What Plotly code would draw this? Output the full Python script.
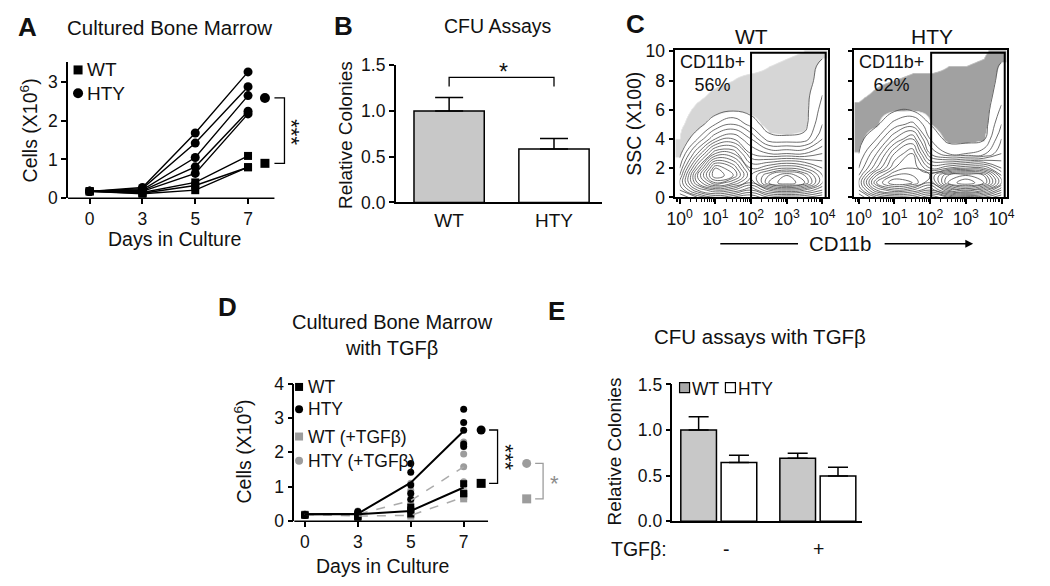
import plotly.graph_objects as go

W, H = 1050, 586
FONT = "Liberation Sans, Arial, sans-serif"

# ------------------------------------------------------------------ data
day_labels = ["0", "3", "5", "7"]
day_pos = [0, 1, 2, 3]

# Panel A / D : individual animals, cells (x10^6)
hty_cells = [
    [0.18, 0.28, 1.68, 3.25],
    [0.18, 0.25, 1.42, 2.87],
    [0.18, 0.22, 1.05, 2.64],
    [0.18, 0.20, 0.81, 2.24],
    [0.18, 0.18, 0.64, 2.17],
]
wt_cells = [
    [0.18, 0.15, 0.41, 1.09],
    [0.18, 0.13, 0.33, 0.80],
    [0.18, 0.12, 0.21, 0.80],
]
a_end_mean_hty = 2.58
a_end_mean_wt = 0.90

# Panel B
b_groups = ["WT", "HTY"]
b_values = [1.00, 0.585]
b_errors = [0.148, 0.115]

# Panel C : density (rows = SSC, cols = log10 CD11b)
cd11b_log_grid = [0, 0.5, 1, 1.5, 2, 2.5, 3, 3.5, 4]
ssc_grid = [0, 0.5, 1, 1.5, 2, 3, 4, 5, 6, 7, 8, 9, 10]
wt_density = [
    [1.0, 2.0, 3.0, 2.5, 2.0, 3.0, 3.0, 3.0, 2.5],
    [2.0, 4.0, 5.0, 4.5, 3.5, 5.0, 5.5, 5.0, 4.0],
    [2.5, 5.5, 7.5, 6.5, 5.0, 7.5, 8.5, 7.5, 5.0],
    [2.0, 6.0, 9.0, 8.0, 5.5, 7.0, 8.0, 7.0, 5.0],
    [1.5, 5.0, 8.5, 7.5, 5.0, 5.5, 6.0, 5.5, 4.5],
    [0.8, 3.0, 5.5, 5.5, 3.5, 3.0, 3.0, 3.0, 3.5],
    [0.4, 1.5, 3.0, 3.5, 2.5, 1.2, 1.1, 1.2, 2.5],
    [0.3, 0.7, 1.5, 2.0, 1.3, 0.7, 0.7, 0.8, 2.0],
    [0.2, 0.5, 0.7, 0.9, 0.8, 0.7, 0.7, 0.8, 1.7],
    [0.1, 0.3, 0.5, 0.6, 0.6, 0.6, 0.6, 0.8, 1.5],
    [0.1, 0.2, 0.3, 0.4, 0.5, 0.5, 0.6, 0.7, 1.3],
    [0.0, 0.1, 0.2, 0.3, 0.3, 0.4, 0.5, 0.6, 1.2],
    [0.0, 0.0, 0.1, 0.1, 0.2, 0.2, 0.3, 0.4, 0.8],
]
hty_density = [
    [1.0, 2.5, 3.0, 3.0, 2.0, 3.0, 3.5, 3.5, 2.5],
    [2.0, 4.5, 5.5, 5.0, 4.0, 6.0, 7.0, 6.0, 4.0],
    [2.5, 6.0, 7.5, 7.0, 5.5, 8.5, 9.5, 8.5, 5.5],
    [2.0, 5.0, 6.5, 6.5, 6.0, 8.0, 8.5, 8.0, 5.0],
    [1.5, 3.5, 5.5, 6.0, 4.5, 5.0, 5.5, 5.5, 4.0],
    [1.0, 2.5, 4.5, 5.5, 2.5, 1.5, 1.5, 1.8, 3.0],
    [0.8, 1.5, 3.0, 4.0, 1.5, 0.8, 0.8, 0.9, 2.5],
    [0.7, 0.9, 1.7, 2.2, 1.0, 0.6, 0.6, 0.7, 2.0],
    [0.5, 0.8, 0.9, 0.9, 0.8, 0.7, 0.7, 0.7, 1.6],
    [0.3, 0.5, 0.7, 0.7, 0.6, 0.6, 0.6, 0.7, 1.3],
    [0.1, 0.3, 0.4, 0.5, 0.5, 0.5, 0.5, 0.6, 1.2],
    [0.0, 0.1, 0.2, 0.3, 0.3, 0.4, 0.4, 0.5, 1.1],
    [0.0, 0.0, 0.1, 0.1, 0.1, 0.2, 0.2, 0.3, 0.7],
]
c_samples = ["WT", "HTY"]
c_percent = ["56%", "62%"]
c_gate_low = [100, 107]
c_gate_high = [12300, 12300]
c_gate_top = 9.9

# Panel D : TGFβ-treated animals
hty_tgf_cells = [
    [0.20, 0.30, 1.10, 2.30],
    [0.20, 0.25, 0.90, 1.95],
    [0.20, 0.20, 0.78, 1.58],
    [0.20, 0.18, 0.60, 1.15],
    [0.20, 0.15, 0.50, 1.05],
]
wt_tgf_cells = [
    [0.20, 0.15, 0.30, 0.85],
    [0.20, 0.13, 0.20, 0.72],
    [0.20, 0.12, 0.15, 0.65],
]
d_mean_hty = [0.20, 0.22, 1.12, 2.62]
d_mean_wt = [0.20, 0.20, 0.30, 0.98]
d_mean_hty_tgf = [0.20, 0.20, 0.60, 1.58]
d_mean_wt_tgf = [0.20, 0.15, 0.17, 0.70]
d_end_hty, d_end_wt = 2.65, 1.10
d_end_hty_tgf, d_end_wt_tgf = 1.68, 0.65

# Panel E
e_conditions = ["-", "+"]
e_wt = [1.00, 0.69]
e_wt_err = [0.145, 0.055]
e_hty = [0.645, 0.495]
e_hty_err = [0.08, 0.098]

# ------------------------------------------------------------------ helpers
BLACK = "black"
GREY_FILL = "#c8c8c8"
GREY_PT = "#9c9c9c"
GREY_LINE = "#ababab"
CLEAR = "rgba(255,255,255,0)"


def dx(l, r):
    return [l / W, r / W]


def dy(top, bottom):
    return [1 - bottom / H, 1 - top / H]


def pxx(x):
    return x / W


def pyy(y):
    return 1 - y / H


def lin(v, rng, pl, pr):
    return (pl + (v - rng[0]) / (rng[1] - rng[0]) * (pr - pl)) / W


axis_common = dict(showgrid=False, zeroline=False, linecolor=BLACK, linewidth=1.5,
                   ticks="outside", ticklen=5, tickwidth=1.5, tickcolor=BLACK,
                   tickfont=dict(family=FONT, size=17.5, color="#111"))

fig = go.Figure()
annotations = []
shapes = []


def text(x, y, s, size=18, bold=False, angle=0, xanchor="center", color="#111"):
    annotations.append(dict(
        x=pxx(x), y=pyy(y), xref="paper", yref="paper", showarrow=False,
        text=("<b>%s</b>" % s) if bold else s, textangle=angle,
        xanchor=xanchor, yanchor="middle",
        font=dict(family=FONT, size=size, color=color)))


def mk(symbol, size, color):
    return dict(symbol=symbol, size=size, color=color, opacity=1,
                line=dict(width=0, color=color))


# ------------------------------------------------------------------ Panel A
A_XR, A_YR = [-0.41, 4.1], [0, 3.5]
A_L, A_R, A_T, A_B = 60, 302, 54, 195
for row in hty_cells:
    fig.add_trace(go.Scatter(x=day_pos, y=row, mode="lines+markers", xaxis="x", yaxis="y",
                             line=dict(color=BLACK, width=1.4), marker=mk("circle", 9, BLACK),
                             cliponaxis=False, showlegend=False))
for row in wt_cells:
    fig.add_trace(go.Scatter(x=day_pos, y=row, mode="lines+markers", xaxis="x", yaxis="y",
                             line=dict(color=BLACK, width=1.4), marker=mk("square", 8, BLACK),
                             cliponaxis=False, showlegend=False))
fig.add_trace(go.Scatter(x=[3.32], y=[a_end_mean_hty], mode="markers", xaxis="x", yaxis="y",
                         marker=mk("circle", 10, BLACK), cliponaxis=False, showlegend=False))
fig.add_trace(go.Scatter(x=[3.32], y=[a_end_mean_wt], mode="markers", xaxis="x", yaxis="y",
                         marker=mk("square", 9, BLACK), cliponaxis=False, showlegend=False))
fig.add_trace(go.Scatter(x=[3.5, 3.69, 3.69, 3.5],
                         y=[a_end_mean_hty, a_end_mean_hty, a_end_mean_wt, a_end_mean_wt],
                         mode="lines", xaxis="x", yaxis="y",
                         line=dict(color=BLACK, width=1.3), showlegend=False))
fig.add_trace(go.Scatter(x=[-0.22], y=[3.3], mode="markers", xaxis="x", yaxis="y",
                         marker=mk("square", 9, BLACK), cliponaxis=False, showlegend=False))
fig.add_trace(go.Scatter(x=[-0.22], y=[2.7], mode="markers", xaxis="x", yaxis="y",
                         marker=mk("circle", 10, BLACK), cliponaxis=False, showlegend=False))
shapes.append(dict(type="line", xref="paper", yref="paper",
                   x0=lin(A_XR[0], A_XR, A_L, A_R), x1=lin(3.5, A_XR, A_L, A_R),
                   y0=pyy(A_B), y1=pyy(A_B), line=dict(color=BLACK, width=1.5)))
text(19, 18, "A", 26, bold=True)
text(163, 18, "Cultured Bone Marrow", 20.5)
text(20, 125, "Cells (X10<sup>6</sup>)", 19.5, angle=-90)
text(168, 237, "Days in Culture", 19.5)
text(77, 62, "WT", 19, xanchor="left")
text(77, 86, "HTY", 19, xanchor="left")
text(287, 127, "***", 22, angle=90)

# ------------------------------------------------------------------ Panel B
fig.add_trace(go.Bar(x=[0, 1], y=b_values, width=0.67, xaxis="x2", yaxis="y2",
                     marker=dict(color=[GREY_FILL, "white"], line=dict(color=BLACK, width=1.5)),
                     error_y=dict(type="data", symmetric=False, array=b_errors, arrayminus=[0, 0],
                                  color=BLACK, thickness=1.5, width=14),
                     showlegend=False))
b_top = max(v + e for v, e in zip(b_values, b_errors))
fig.add_trace(go.Scatter(x=[0, 0, 1, 1], y=[b_top + 0.12, b_top + 0.22, b_top + 0.22, b_top + 0.12],
                         mode="lines", xaxis="x2", yaxis="y2",
                         line=dict(color=BLACK, width=1.3), showlegend=False))
text(340, 17, "B", 26, bold=True)
text(497, 17, "CFU Assays", 19.5)
text(342, 129, "Relative Colonies", 19, angle=-90)
text(503, 64, "*", 23)

# ------------------------------------------------------------------ Panel C
C_XAX = ["x3", "x4"]
C_YAX = ["y3", "y4"]
C_LEFT = [677.3, 859.3]
c_x_vals = [10 ** v for v in cd11b_log_grid]
for i, dens in enumerate([wt_density, hty_density]):
    dot_col = "rgba(70,70,70,0.22)" if i == 0 else "rgba(30,30,30,0.42)"
    fig.add_trace(go.Heatmap(x=c_x_vals, y=ssc_grid, z=dens, xaxis=C_XAX[i], yaxis=C_YAX[i],
                             zmin=0, zmax=10, zsmooth="best", showscale=False, hoverinfo="skip",
                             colorscale=[[0, CLEAR], [0.039, CLEAR], [0.04, dot_col],
                                         [0.097, dot_col], [0.1, CLEAR], [1, CLEAR]]))
    fig.add_trace(go.Contour(x=c_x_vals, y=ssc_grid, z=dens, xaxis=C_XAX[i], yaxis=C_YAX[i],
                             autocontour=False,
                             contours=dict(coloring="none", start=1, end=9.5, size=0.5),
                             line=dict(color="#4a4a4a", width=0.8, smoothing=1.3),
                             showscale=False, hoverinfo="skip"))
    fig.add_trace(go.Scatter(x=[c_gate_low[i], c_gate_low[i], c_gate_high[i], c_gate_high[i]],
                             y=[0, c_gate_top, c_gate_top, 0], mode="lines",
                             xaxis=C_XAX[i], yaxis=C_YAX[i],
                             line=dict(color=BLACK, width=2), showlegend=False))
    text(C_LEFT[i] + 3, 66, "CD11b+<br>" + c_percent[i], 18, xanchor="left")
text(637, 14, "C", 26, bold=True)
text(755, 27, c_samples[0], 21)
text(938, 27, c_samples[1], 21)
text(635, 118, "SSC (X100)", 19.5, angle=-90)
text(845, 242, "CD11b", 20.5)
shapes.append(dict(type="line", xref="paper", yref="paper", x0=pxx(723), x1=pxx(802),
                   y0=pyy(242), y1=pyy(242), line=dict(color=BLACK, width=1.3)))
annotations.append(dict(x=pxx(980), y=pyy(242), xref="paper", yref="paper",
                        ax=-90, ay=0, axref="pixel", ayref="pixel",
                        showarrow=True, arrowhead=2, arrowsize=1.2, arrowwidth=1.3,
                        arrowcolor=BLACK, text=""))

# ------------------------------------------------------------------ Panel D
D_XR, D_YR = [-0.2, 4.9], [0, 4]
D_L, D_R, D_T, D_B = 290, 564.4, 386.7, 529.3
for rows, sym, col in [(hty_tgf_cells, "circle", GREY_PT), (wt_tgf_cells, "square", GREY_PT),
                       (hty_cells, "circle", BLACK), (wt_cells, "square", BLACK)]:
    for row in rows:
        fig.add_trace(go.Scatter(x=day_pos, y=row, mode="markers", xaxis="x5", yaxis="y5",
                                 marker=mk(sym, 7, col), cliponaxis=False, showlegend=False))
for mean, col, dash, wd in [(d_mean_wt_tgf, GREY_LINE, "dash", 1.5), (d_mean_hty_tgf, GREY_LINE, "dash", 1.5),
                            (d_mean_wt, BLACK, "solid", 2), (d_mean_hty, BLACK, "solid", 2)]:
    fig.add_trace(go.Scatter(x=day_pos, y=mean, mode="lines", xaxis="x5", yaxis="y5",
                             line=dict(color=col, width=wd, dash=dash), showlegend=False))
for xv, yv, sym, col in [(3.33, d_end_hty, "circle", BLACK), (3.33, d_end_wt, "square", BLACK),
                         (4.19, d_end_hty_tgf, "circle", GREY_PT), (4.19, d_end_wt_tgf, "square", GREY_PT)]:
    fig.add_trace(go.Scatter(x=[xv], y=[yv], mode="markers", xaxis="x5", yaxis="y5",
                             marker=mk(sym, 9, col), cliponaxis=False, showlegend=False))
fig.add_trace(go.Scatter(x=[3.48, 3.64, 3.64, 3.48], y=[d_end_hty, d_end_hty, d_end_wt, d_end_wt],
                         mode="lines", xaxis="x5", yaxis="y5",
                         line=dict(color=BLACK, width=1.3), showlegend=False))
fig.add_trace(go.Scatter(x=[4.35, 4.5, 4.5, 4.35],
                         y=[d_end_hty_tgf, d_end_hty_tgf, d_end_wt_tgf, d_end_wt_tgf],
                         mode="lines", xaxis="x5", yaxis="y5",
                         line=dict(color=GREY_PT, width=1.3), showlegend=False))
for yv, sym, col in [(3.9, "square", BLACK), (3.25, "circle", BLACK),
                     (2.46, "square", GREY_PT), (1.76, "circle", GREY_PT)]:
    fig.add_trace(go.Scatter(x=[-0.11], y=[yv], mode="markers", xaxis="x5", yaxis="y5",
                             marker=mk(sym, 8, col), cliponaxis=False, showlegend=False))
shapes.append(dict(type="line", xref="paper", yref="paper",
                   x0=lin(D_XR[0], D_XR, D_L, D_R), x1=lin(3.46, D_XR, D_L, D_R),
                   y0=pyy(D_B), y1=pyy(D_B), line=dict(color=BLACK, width=1.5)))
text(222, 308, "D", 26, bold=True)
text(390, 337, "Cultured Bone Marrow<br>with TGFβ", 20)
text(238, 457, "Cells (X10<sup>6</sup>)", 19.5, angle=-90)
text(380, 576, "Days in Culture", 19.5)
for yv, lab in [(390.3, "WT"), (413.4, "HTY"), (441.6, "WT (+TGFβ)"), (466.6, "HTY (+TGFβ)")]:
    text(302, yv, lab, 17.5, xanchor="left")
text(505, 463, "***", 22, angle=90)
text(554, 490, "*", 22, color="#8c8c8c")

# ------------------------------------------------------------------ Panel E
fig.add_trace(go.Bar(x=[0, 1], y=e_wt, width=0.36, offset=-0.383, xaxis="x6", yaxis="y6",
                     marker=dict(color=GREY_FILL, line=dict(color=BLACK, width=1.5)),
                     error_y=dict(type="data", symmetric=False, array=e_wt_err, arrayminus=[0, 0],
                                  color=BLACK, thickness=1.5, width=10),
                     showlegend=False))
fig.add_trace(go.Bar(x=[0, 1], y=e_hty, width=0.36, offset=0.024, xaxis="x6", yaxis="y6",
                     marker=dict(color="white", line=dict(color=BLACK, width=1.5)),
                     error_y=dict(type="data", symmetric=False, array=e_hty_err, arrayminus=[0, 0],
                                  color=BLACK, thickness=1.5, width=10),
                     showlegend=False))
fig.add_trace(go.Scatter(x=[-0.345, 0.118], y=[1.465, 1.465], mode="markers", xaxis="x6", yaxis="y6",
                         marker=dict(symbol="square", size=10, color=["#a8a8a8", "white"],
                                     line=dict(color=BLACK, width=1.2)),
                         cliponaxis=False, showlegend=False))
text(557, 312, "E", 26, bold=True)
text(763, 338, "CFU assays with TGFβ", 20.5)
text(615, 457, "Relative Colonies", 19, angle=-90)
text(692.5, 392, "WT", 17.5, xanchor="left")
text(739, 392, "HTY", 17.5, xanchor="left")
text(640, 558, "TGFβ:", 19.5)
text(729, 558, e_conditions[0], 19.5)
text(823, 558, e_conditions[1], 19.5)

# ------------------------------------------------------------------ layout
layout = dict(
    width=W, height=H, margin=dict(l=0, r=0, t=0, b=0),
    paper_bgcolor="white", plot_bgcolor="rgba(0,0,0,0)",
    font=dict(family=FONT, color="#111"), barmode="overlay",
    annotations=annotations, shapes=shapes, showlegend=False,
)
layout["xaxis"] = dict(axis_common, domain=dx(A_L, A_R), range=A_XR, anchor="y", showline=False,
                       tickvals=day_pos, ticktext=day_labels)
layout["yaxis"] = dict(axis_common, domain=dy(A_T, A_B), range=A_YR, anchor="x", showline=True,
                       tickvals=[0, 1, 2, 3])
layout["xaxis2"] = dict(axis_common, domain=dx(393, 603), range=[-0.51, 1.46], anchor="y2",
                        showline=True, ticks="", tickvals=[0, 1], ticktext=b_groups,
                        tickfont=dict(family=FONT, size=19, color="#111"))
layout["yaxis2"] = dict(axis_common, domain=dy(57.3, 199.3), range=[0, 1.5], anchor="x2",
                        showline=True, tickvals=[0, 0.5, 1.0, 1.5], tickformat=".1f")
c_ticktext = ["10<sup>%d</sup>" % k for k in range(5)]
for i, (l, r) in enumerate([(677.3, 832.3), (859.3, 1014.3)]):
    xa = "xaxis%d" % (3 + i)
    ya = "yaxis%d" % (3 + i)
    layout[xa] = dict(axis_common, domain=dx(l, r), type="log", range=[-0.12, 4.15],
                      anchor="y%d" % (3 + i), showline=True, mirror=True,
                      tickvals=[1, 10, 100, 1000, 10000], ticktext=c_ticktext,
                      minor=dict(ticks="outside", ticklen=3, tickwidth=1, tickcolor=BLACK, dtick="D1"))
    layout[ya] = dict(axis_common, domain=dy(41.7, 194), range=[0, 10.07],
                      anchor="x%d" % (3 + i), showline=True, mirror=True,
                      tickvals=[0, 2, 4, 6, 8, 10], showticklabels=(i == 0))
layout["xaxis5"] = dict(axis_common, domain=dx(D_L, D_R), range=D_XR, anchor="y5", showline=False,
                        tickvals=day_pos, ticktext=day_labels)
layout["yaxis5"] = dict(axis_common, domain=dy(D_T, D_B), range=D_YR, anchor="x5", showline=True,
                        tickvals=[0, 1, 2, 3, 4])
layout["xaxis6"] = dict(axis_common, domain=dx(674.3, 866.7), range=[-0.468, 1.443], anchor="y6",
                        showline=True, ticks="", showticklabels=False)
layout["yaxis6"] = dict(axis_common, domain=dy(387.7, 529.3), range=[0, 1.5], anchor="x6",
                        showline=True, tickvals=[0, 0.5, 1.0, 1.5], tickformat=".1f")

fig.update_layout(**layout)
fig.write_html("out.html", config={"displayModeBar": False},
               post_script="document.body.style.margin='0px';")
